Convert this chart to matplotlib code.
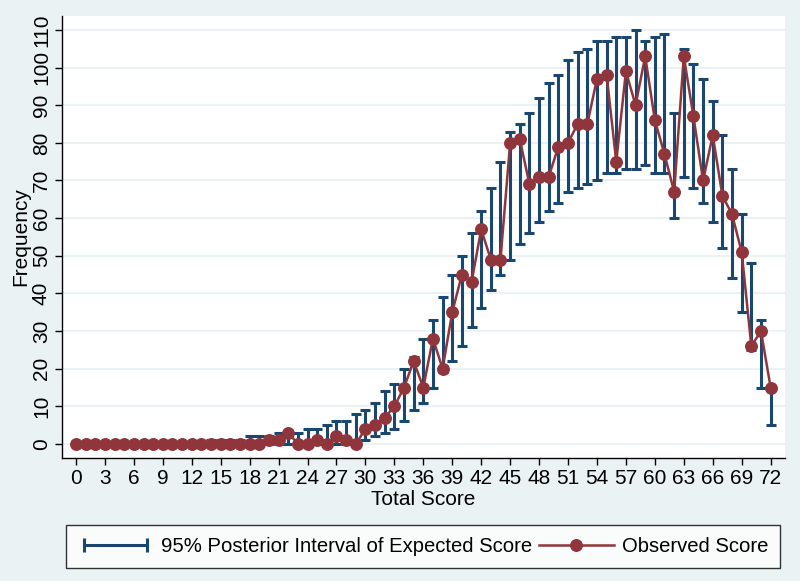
import matplotlib
matplotlib.use("Agg")
import matplotlib.pyplot as plt
import numpy as np
from matplotlib import font_manager
from matplotlib.lines import Line2D
from matplotlib.legend_handler import HandlerLine2D

# Data
scores = list(range(73))
observed = [0, 0, 0, 0, 0, 0, 0, 0, 0, 0,
            0, 0, 0, 0, 0, 0, 0, 0, 0, 0,
            1, 1, 3, 0, 0, 1, 0, 2, 1, 0,
            4, 5, 7, 10, 15, 22, 15, 28, 20, 35,
            45, 43, 57, 49, 49, 80, 81, 69, 71, 71,
            79, 80, 85, 85, 97, 98, 75, 99, 90, 103,
            86, 77, 67, 103, 87, 70, 82, 66, 61, 51,
            26, 30, 15]
lower = [0, 0, 0, 0, 0, 0, 0, 0, 0, 0,
         0, 0, 0, 0, 0, 0, 0, 0, 0, 0,
         0, 0, 0, 0, 0, 0, 0, 0, 0, 0,
         1, 2, 3, 4, 6, 9, 11, 15, 19, 22,
         26, 31, 36, 41, 45, 49, 53, 56, 59, 62,
         64, 67, 68, 69, 70, 72, 72, 73, 73, 74,
         72, 72, 60, 71, 68, 64, 59, 52, 44, 35,
         25, 15, 5]
upper = [0, 0, 0, 0, 0, 0, 0, 0, 0, 0,
         0, 0, 0, 0, 1, 1, 1, 1, 2, 2,
         2, 3, 3, 3, 4, 4, 5, 6, 6, 8,
         9, 11, 14, 16, 20, 23, 28, 33, 39, 45,
         50, 56, 62, 68, 75, 83, 85, 88, 92, 96,
         98, 102, 104, 105, 107, 107, 108, 108, 110, 107,
         108, 109, 88, 105, 101, 97, 91, 82, 73, 61,
         48, 33, 15]
x_ticks = list(range(0, 73, 3))
y_ticks = list(range(0, 111, 10))

navy = '#1A476F'
maroon = '#90353B'
bg = '#EAF2F3'

installed = {f.name for f in font_manager.fontManager.ttflist}
plt.rcParams['font.family'] = 'Liberation Sans' if 'Liberation Sans' in installed else 'DejaVu Sans'

fig = plt.figure(figsize=(8, 5.81), dpi=100, facecolor=bg)
ax = fig.add_axes([0.0775, 0.2117, 0.9035, 0.7608], facecolor='white')

lo = np.array(lower, dtype=float)
hi = np.array(upper, dtype=float)
ax.errorbar(scores, (lo + hi) / 2, yerr=(hi - lo) / 2, fmt='none',
            ecolor=navy, elinewidth=2.2, capsize=3.8, capthick=2.2, zorder=3)
ax.plot(scores, observed, color=maroon, lw=1.8, marker='o', markersize=8.3,
        zorder=4)

ax.set_xlim(-1.45, 73.47)
ax.set_ylim(-3.72, 113.7)
ax.set_xticks(x_ticks)
ax.set_yticks(y_ticks)
ax.yaxis.grid(True, color=bg, lw=1.5)
ax.set_axisbelow(True)

for s in ['top', 'right']:
    ax.spines[s].set_visible(False)
for s in ['left', 'bottom']:
    ax.spines[s].set_linewidth(1)
    ax.spines[s].set_color('black')

ax.tick_params(axis='both', direction='out', length=5, width=1, labelsize=15, pad=3)
ax.tick_params(axis='y', labelrotation=90)
for lbl in ax.get_yticklabels():
    lbl.set_va('center')

ax.set_xlabel('Total Score', fontsize=15, labelpad=1)
ax.set_ylabel('Frequency', fontsize=15)
ax.yaxis.set_label_coords(-0.044, 0.5)

# Legend
h_interval = Line2D([], [], color=navy, lw=2.2, marker='|', markersize=10, mew=2.2)
h_observed = Line2D([], [], color=maroon, lw=1.8, marker='o', markersize=8.3)
leg = fig.legend([h_interval, h_observed],
                 ['95% Posterior Interval of Expected Score', 'Observed Score'],
                 loc='lower center', bbox_to_anchor=(0.529, 0.022), ncol=2,
                 fontsize=14.6, frameon=True, fancybox=False, edgecolor='black',
                 handlelength=3.7, handletextpad=0.4, columnspacing=0.3,
                 borderpad=0.6, borderaxespad=0,
                 handler_map={h_interval: HandlerLine2D(numpoints=2)})
leg.get_frame().set_linewidth(1)

fig.savefig('out.png', dpi=100, facecolor=bg)
